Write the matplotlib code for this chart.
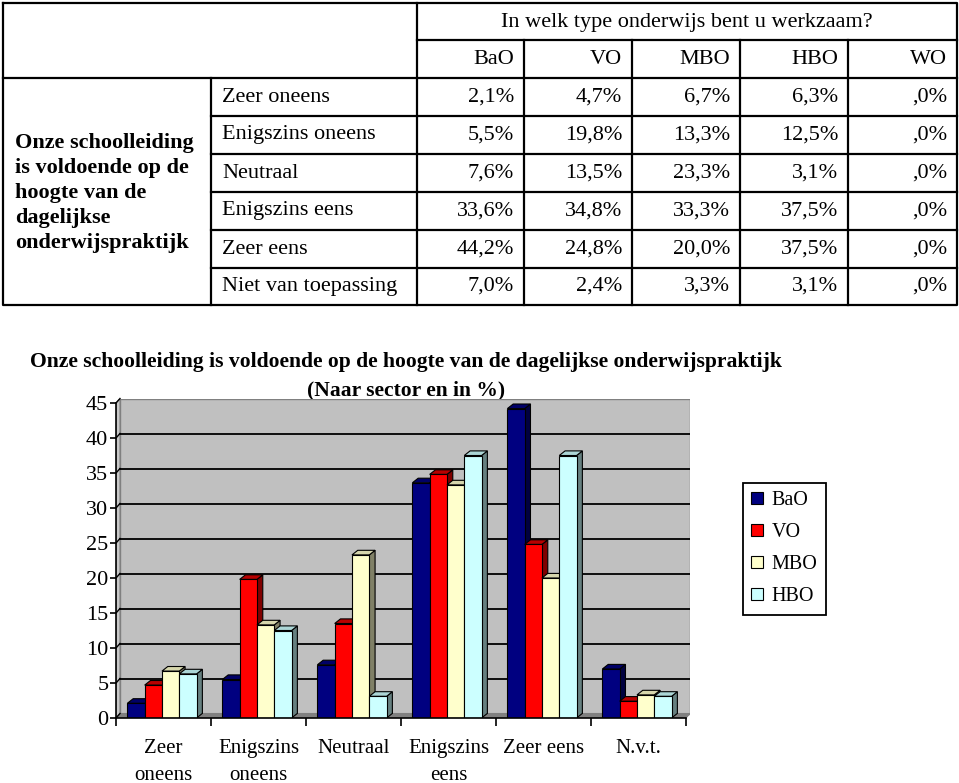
import matplotlib
matplotlib.use("Agg")
import matplotlib.pyplot as plt
from matplotlib.patches import Patch

plt.rcParams['font.family'] = ['Liberation Serif', 'DejaVu Serif']

# ---------------- data ----------------
question = "In welk type onderwijs bent u werkzaam?"
stmt = "Onze schoolleiding\nis voldoende op de\nhoogte van de\ndagelijkse\nonderwijspraktijk"
columns = ["BaO", "VO", "MBO", "HBO", "WO"]
answers = ["Zeer oneens", "Enigszins oneens", "Neutraal", "Enigszins eens",
           "Zeer eens", "Niet van toepassing"]
bao = [2.1, 5.5, 7.6, 33.6, 44.2, 7.0]
vo = [4.7, 19.8, 13.5, 34.8, 24.8, 2.4]
mbo = [6.7, 13.3, 23.3, 33.3, 20.0, 3.3]
hbo = [6.3, 12.5, 3.1, 37.5, 37.5, 3.1]
wo = [0.0, 0.0, 0.0, 0.0, 0.0, 0.0]

chart_title = "Onze schoolleiding is voldoende op de hoogte van de dagelijkse onderwijspraktijk"
chart_subtitle = "(Naar sector en in %)"
cat_labels = ["Zeer\noneens", "Enigszins\noneens", "Neutraal", "Enigszins\neens",
              "Zeer eens", "N.v.t."]
series_names = ["BaO", "VO", "MBO", "HBO"]
series_vals = [bao, vo, mbo, hbo]
yticks = [0, 5, 10, 15, 20, 25, 30, 35, 40, 45]

# ---------------- styles ----------------
front_cols = ["#000080", "#FF0000", "#FFFFCC", "#CCFFFF"]
top_cols = ["#000066", "#B80000", "#D6D6AC", "#ACD6D6"]
side_cols = ["#000040", "#800000", "#808066", "#668080"]

W, H = 959, 783
fig = plt.figure(figsize=(W / 100, H / 100), dpi=100)

# ---------------- table ----------------
tab = fig.add_axes([0, 0, 1, 1])
tab.set_xlim(0, W)
tab.set_ylim(H, 0)
tab.axis('off')

def fmt(v):
    s = f"{v:.1f}".replace('.', ',')
    if s.startswith('0'):
        s = s[1:]
    return s + '%'

lw = 1.6
x_l, x_r, y_t, y_b = 3, 957, 3, 305
x_stmt, x_ans = 211, 417
col_edges = [417, 524, 632, 740, 848, 957]
row_edges = [78, 116, 154, 192, 230, 268, 305]
tab.plot([x_l, x_r, x_r, x_l, x_l], [y_t, y_t, y_b, y_b, y_t], color='black', lw=lw)
tab.plot([x_ans, x_ans], [y_t, y_b], color='black', lw=lw)
tab.plot([x_ans, x_r], [40, 40], color='black', lw=lw)
tab.plot([x_l, x_r], [78, 78], color='black', lw=lw)
tab.plot([x_stmt, x_stmt], [78, y_b], color='black', lw=lw)
for y in row_edges[1:-1]:
    tab.plot([x_stmt, x_r], [y, y], color='black', lw=lw)
for x in col_edges[1:-1]:
    tab.plot([x, x], [40, y_b], color='black', lw=lw)

fs = 16
tab.text((x_ans + x_r) / 2, 22, question, ha='center', va='center', fontsize=fs)
for j, c in enumerate(columns):
    tab.text(col_edges[j + 1] - 10, 59, c, ha='right', va='center', fontsize=fs)
tab.text(15, 193, stmt, ha='left', va='center', fontsize=fs, fontweight='bold',
         linespacing=1.33)
table_vals = [bao, vo, mbo, hbo, wo]
for i, a in enumerate(answers):
    yc = (row_edges[i] + row_edges[i + 1]) / 2
    tab.text(222, yc, a, ha='left', va='center', fontsize=fs)
    for j, col in enumerate(table_vals):
        tab.text(col_edges[j + 1] - 10, yc, fmt(col[i]), ha='right', va='center',
                 fontsize=fs)

# ---------------- chart ----------------
tab.text(406, 362, chart_title, ha='center', va='center', fontsize=15.6, fontweight='bold')
tab.text(406, 390, chart_subtitle, ha='center', va='center', fontsize=15.5, fontweight='bold')

ncat = len(cat_labels)
px_x, px_y = 95.0, 7.0          # pixels per data unit
wx, wy = 4.0 / px_x, 4.5 / px_y  # wall depth
bx, by = 5.8 / px_x, 4.6 / px_y  # bar depth
ymax = yticks[-1]

left_px, bottom_px = 116, 718
ax_w = (ncat + wx) * px_x
ax_h = (ymax + wy) * px_y
ax = fig.add_axes([left_px / W, (H - bottom_px) / H, ax_w / W, ax_h / H])
ax.set_xlim(0, ncat + wx)
ax.set_ylim(0, ymax + wy)
ax.patch.set_visible(False)
for s in ['top', 'right']:
    ax.spines[s].set_visible(False)
ax.spines['left'].set_bounds(0, ymax)
ax.spines['bottom'].set_bounds(0, ncat)
ax.spines['left'].set_linewidth(1.2)
ax.spines['bottom'].set_linewidth(1.2)
ax.spines['left'].set_zorder(10)
ax.spines['bottom'].set_zorder(10)

# walls and floor
ax.fill([wx, ncat + wx, ncat + wx, wx], [wy, wy, ymax + wy, ymax + wy],
        color='#C0C0C0', ec='#808080', lw=1.0, zorder=0)
ax.fill([0, wx, wx, 0], [0, wy, ymax + wy, ymax], color='#C8C8C8', ec='#808080',
        lw=0.8, zorder=0)
ax.fill([0, ncat, ncat + wx, wx], [0, 0, wy, wy], color='#808080', ec='#808080',
        lw=0.8, zorder=0.5)
for v in yticks[1:-1]:
    ax.plot([wx, ncat + wx], [v + wy, v + wy], color='black', lw=1.3, zorder=1)
for v in yticks:
    ax.plot([0, wx], [v, v + wy], color='black', lw=1.0, zorder=1, clip_on=False)

# bars
nser = len(series_vals)
bw = 17.3 / px_x
k = 0
for i in range(ncat):
    start = i + (1 - nser * bw) / 2 - 0.016
    for j in range(nser):
        h = series_vals[j][i]
        x0 = start + j * bw
        z = 2 + k * 0.01
        ax.fill([x0 + bw, x0 + bw + bx, x0 + bw + bx, x0 + bw], [0, by, h + by, h],
                color=side_cols[j], ec='black', lw=0.8, zorder=z)
        ax.fill([x0, x0 + bw, x0 + bw + bx, x0 + bx], [h, h, h + by, h + by],
                color=top_cols[j], ec='black', lw=0.8, zorder=z)
        ax.bar(x0, h, width=bw, align='edge', color=front_cols[j], edgecolor='black',
               linewidth=0.8, zorder=z + 0.005)
        k += 1

ax.set_yticks(yticks)
ax.set_yticklabels([str(v) for v in yticks])
ax.tick_params(axis='y', direction='out', length=4, width=1.2, pad=1.5, labelsize=16)
ax.set_xticks(range(ncat + 1))
ax.set_xticklabels([''] * (ncat + 1))
ax.tick_params(axis='x', which='major', direction='out', length=6, width=1.2)
ax.set_xticks([i + 0.5 for i in range(ncat)], minor=True)
ax.set_xticklabels(cat_labels, minor=True, fontsize=15, linespacing=1.58)
ax.tick_params(axis='x', which='minor', length=0, pad=14.8)

# legend
handles = [Patch(facecolor=c, edgecolor='black', lw=0.8) for c in front_cols]
leg = fig.legend(handles, series_names, loc='upper left',
                 bbox_to_anchor=(743 / W, 1 - 483 / H), fontsize=14.5,
                 handlelength=0.55, handleheight=0.55, handletextpad=0.45,
                 labelspacing=0.64, borderpad=0.42, borderaxespad=0,
                 fancybox=False, shadow=False, framealpha=1)
leg.get_frame().set_edgecolor('black')
leg.get_frame().set_linewidth(1.3)

fig.savefig("out.png", dpi=100)
